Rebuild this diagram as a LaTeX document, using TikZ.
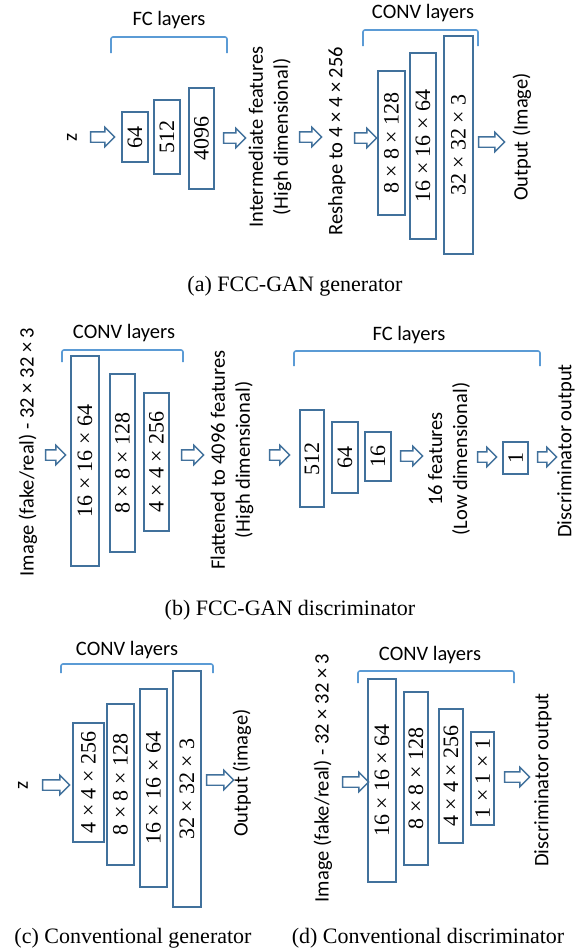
\documentclass[tikz,border=0pt]{standalone}
\usepackage{amsmath}
\usepackage{fontspec}
\usetikzlibrary{shapes.arrows}
\newfontfamily\lblfont{Carlito}
\newfontfamily\numfont{Liberation Serif}
\definecolor{boxblue}{HTML}{41719C}
\definecolor{brblue}{HTML}{5B9BD5}

\begin{document}
\begin{tikzpicture}
  [x=1pt,y=-1pt,
   every node/.style={font=\lblfont\fontsize{20.5}{25}\selectfont},
   layer/.style={draw=boxblue,line width=1.5pt,rotate=90,inner sep=0pt,font=\numfont\fontsize{22}{26}\selectfont},
   txt/.style={rotate=90,align=center,inner sep=0pt},
   blk/.style={single arrow,draw=boxblue,line width=1.4pt,fill=white,inner sep=4.5pt,
     single arrow head extend=4.5pt,minimum height=#1},
   blk/.default=22pt,
   brace/.style={draw=brblue,line width=1.6pt,rounded corners=2pt},
   captext/.style={font=\numfont\fontsize{22}{26}\selectfont}]
  \useasboundingbox (0,0) rectangle (581,951);

  % (a) FCC-GAN generator
  \node[txt] (az) at (72,137) {z};
  \node[blk=24pt] (aa1) at (100,137) {};
  \node[layer,minimum width=50pt,minimum height=26pt] (afc1) at (135,137) {64};
  \node[layer,minimum width=74pt,minimum height=26pt] (afc2) at (167,137) {512};
  \node[layer,minimum width=101pt,minimum height=25pt] (afc3) at (201.5,138.5) {4096};
  \node[blk] (aa2) at (232,138) {};
  \node[txt] (ainter) at (270,137) {Intermediate features\\(High dimensional)};
  \node[blk] (aa3) at (308,137) {};
  \node[txt] (ashape) at (337,141) {Reshape to 4 × 4 × 256};
  \node[blk] (aa4) at (363,138) {};
  \node[layer,minimum width=144pt,minimum height=27pt] (acv1) at (391.5,143) {8 × 8 × 128};
  \node[layer,minimum width=186pt,minimum height=26pt] (acv2) at (423,146) {16 × 16 × 64};
  \node[layer,minimum width=218pt,minimum height=29pt] (acv3) at (458.5,145) {32 × 32 × 3};
  \node[blk=26pt] (aa5) at (489,142) {};
  \node[txt] (aout) at (522,137) {Output (Image)};
  \draw[brace] (111,53) -- (111,37) -- (227,37) -- (227,53);
  \node (afclab) at (169,20) {FC layers};
  \draw[brace] (363,46) -- (363,30) -- (478,30) -- (478,46);
  \node (acvlab) at (423,13) {CONV layers};
  \node[captext] (acap) at (295,286) {(a) FCC-GAN generator};

  % (b) FCC-GAN discriminator
  \node[txt] (bimg) at (28,452) {Image (fake/real) - 32 × 32 × 3};
  \node[blk=20pt] (ba1) at (53,455) {};
  \node[layer,minimum width=210pt,minimum height=28pt] (bcv1) at (85,461) {16 × 16 × 64};
  \node[layer,minimum width=178pt,minimum height=25pt] (bcv2) at (122.5,463) {8 × 8 × 128};
  \node[layer,minimum width=138pt,minimum height=25pt] (bcv3) at (156.5,462) {4 × 4 × 256};
  \node[blk] (ba2) at (190,455) {};
  \node[txt] (bflat) at (232,460) {Flattened to 4096 features\\(High dimensional)};
  \node[blk=20pt] (ba3) at (277,455) {};
  \node[layer,minimum width=97pt,minimum height=24pt] (bfc1) at (312,458.5) {512};
  \node[layer,minimum width=71pt,minimum height=26pt] (bfc2) at (345,457.5) {64};
  \node[layer,minimum width=49pt,minimum height=26pt] (bfc3) at (378,456.5) {16};
  \node[blk] (ba4) at (409,456) {};
  \node[txt] (blow) at (449,459) {16 features\\(Low dimensional)};
  \node[blk=19pt] (ba5) at (484.5,457) {};
  \node[layer,minimum width=32pt,minimum height=25pt] (bfc4) at (515.5,458) {1};
  \node[blk=19pt] (ba6) at (544.5,457) {};
  \node[txt] (bout) at (566,451) {Discriminator output};
  \draw[brace] (62,362) -- (62,350) -- (183,350) -- (183,362);
  \node (bcvlab) at (124,333) {CONV layers};
  \draw[brace] (294,366) -- (294,351) -- (540,351) -- (540,366);
  \node (bfclab) at (409,335) {FC layers};
  \node[captext] (bcap) at (290,610) {(b) FCC-GAN discriminator};

  % (c) conventional generator
  \node[txt] (cz) at (23,785) {z};
  \node[blk=27pt] (ca1) at (53.5,785) {};
  \node[layer,minimum width=119pt,minimum height=31pt] (ccv1) at (88.5,782.5) {4 × 4 × 256};
  \node[layer,minimum width=161pt,minimum height=27pt] (ccv2) at (120.5,784.5) {8 × 8 × 128};
  \node[layer,minimum width=198pt,minimum height=27pt] (ccv3) at (153.5,788) {16 × 16 × 64};
  \node[layer,minimum width=236pt,minimum height=28pt] (ccv4) at (187,789) {32 × 32 × 3};
  \node[blk=27pt] (ca2) at (217.5,780) {};
  \node[txt] (cout) at (242,773) {Output (image)};
  \draw[brace] (61,673) -- (61,664) -- (213,664) -- (213,673);
  \node (ccvlab) at (127,650) {CONV layers};
  \node[captext] (ccap) at (133,938) {(c) Conventional generator};

  % (d) conventional discriminator
  \node[txt] (dimg) at (323,778) {Image (fake/real) - 32 × 32 × 3};
  \node[blk=26pt] (da1) at (353,782) {};
  \node[layer,minimum width=203pt,minimum height=28pt] (dcv1) at (382,780.5) {16 × 16 × 64};
  \node[layer,minimum width=173pt,minimum height=24pt] (dcv2) at (416,778.5) {8 × 8 × 128};
  \node[layer,minimum width=134pt,minimum height=24pt] (dcv3) at (451,776) {4 × 4 × 256};
  \node[layer,minimum width=93pt,minimum height=23pt] (dcv4) at (482.5,778.5) {1 × 1 × 1};
  \node[blk=25pt] (da2) at (514.5,777) {};
  \node[txt] (dout) at (543,780) {Discriminator output};
  \draw[brace] (358,683) -- (358,671) -- (514,671) -- (514,683);
  \node (dcvlab) at (430,655) {CONV layers};
  \node[captext] (dcap) at (428,938) {(d) Conventional discriminator};
\end{tikzpicture}
\end{document}
